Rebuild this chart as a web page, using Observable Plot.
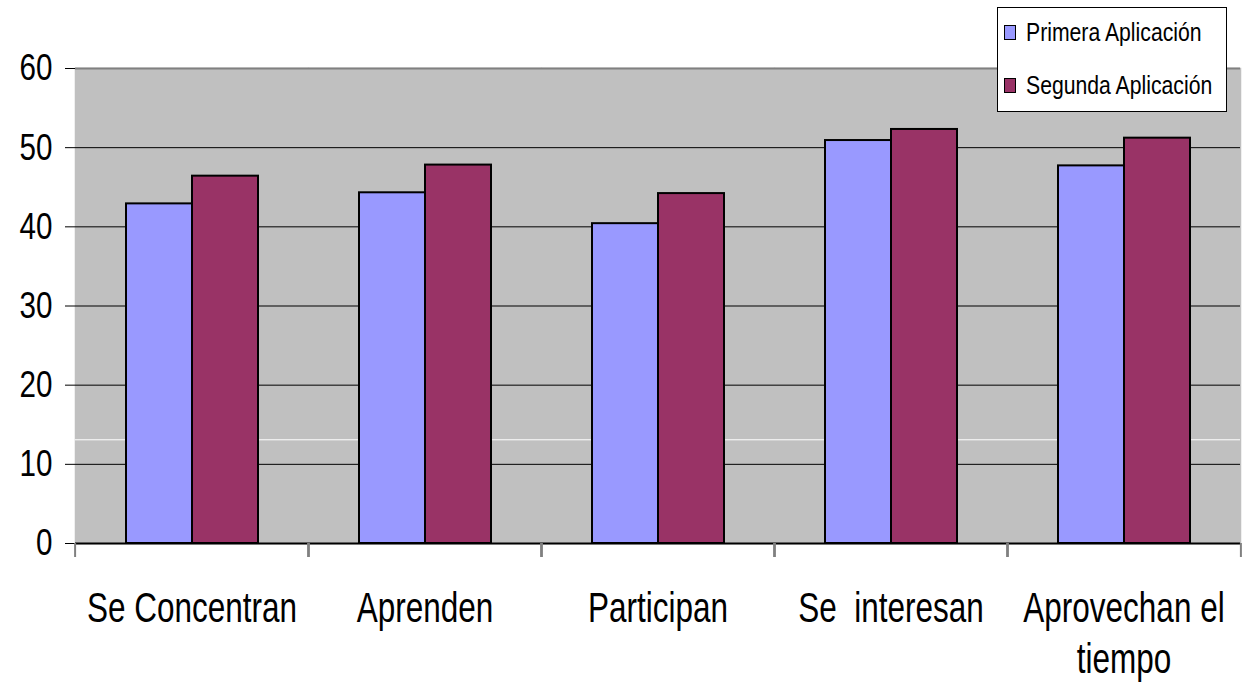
<!DOCTYPE html>
<html>
<head>
<meta charset="utf-8">
<script src="https://cdn.jsdelivr.net/npm/d3@7"></script>
<script src="https://cdn.jsdelivr.net/npm/@observablehq/plot@0.6"></script>
<style>
  html, body { margin: 0; padding: 0; background: #fff; }
  #wrap { position: relative; width: 1244px; height: 688px; font-family: "Liberation Sans", Arial, sans-serif; }
  #legend { position: absolute; left: 997px; top: 7px; width: 230px; height: 105px; background: #fff; border: 1px solid #000; box-sizing: border-box; }
  .item { position: absolute; left: 6px; display: flex; align-items: center; font-size: 26.5px; color: #000; white-space: nowrap; }
  .sw { width: 10px; height: 13px; border: 1px solid #000; margin-right: 10px; flex: none; }
  .lbl { display: inline-block; transform: scaleX(0.8); transform-origin: 0 50%; }
</style>
</head>
<body>
<div id="wrap"><div id="chart"></div><div id="legend"></div></div>
<script>
const categories = ["Se Concentran", "Aprenden", "Participan", "Se  interesan", "Aprovechan el tiempo"];
const categoryLabels = ["Se Concentran", "Aprenden", "Participan", "Se  interesan", "Aprovechan el\ntiempo"];
const series = ["Primera Aplicación", "Segunda Aplicación"];
const primera = [42.9, 44.3, 40.4, 50.9, 47.7];
const segunda = [46.4, 47.8, 44.2, 52.3, 51.2];
const colors = ["#9999FF", "#993366"];
const yTicks = [0, 10, 20, 30, 40, 50, 60];
const gridTicks = [10, 20, 30, 40, 50];
const whiteStreak = 13.1;

const rows = [];
categories.forEach((c, i) => {
  rows.push({category: c, serie: series[0], value: primera[i]});
  rows.push({category: c, serie: series[1], value: segunda[i]});
});

const W = 1244, H = 688, mL = 73, mR = 2, mT = 68, mB = 145;
const half = (W - mL - mR) / categories.length / 2;
const font = '"Liberation Sans", Arial, sans-serif';

const chart = Plot.plot({
  width: W, height: H,
  marginLeft: mL, marginRight: mR, marginTop: mT, marginBottom: mB,
  style: {fontFamily: font, background: "transparent", color: "#000"},
  fx: {domain: categories, padding: 0, label: null},
  x: {domain: series, paddingInner: 0, paddingOuter: 0.745, axis: null},
  y: {domain: [0, 60], label: null},
  color: {domain: series, range: colors},
  marks: [
    Plot.frame({fill: "#C0C0C0", stroke: "#C0C0C0", strokeWidth: 1.5}),
    Plot.ruleY([whiteStreak], {stroke: "#ffffff", strokeWidth: 1}),
    Plot.ruleY(gridTicks, {stroke: "#000", strokeWidth: 1}),
    Plot.ruleY([60], {stroke: "#808080", strokeWidth: 2}),
    Plot.barY(rows, {fx: "category", x: "serie", y: "value", fill: "serie", stroke: "#000", strokeWidth: 2}),
    Plot.ruleY([0], {stroke: "#000", strokeWidth: 2}),
    Plot.axisY({ticks: yTicks, tickSize: 10, tickPadding: 13, fontSize: 37, stroke: "#000", tickFormat: d => String(d)}),
    Plot.axisY({anchor: "left", ticks: [], tickSize: 0, line: true, stroke: "#333", strokeWidth: 2}),
    Plot.axisY({anchor: "right", ticks: [], tickSize: 0, line: true, stroke: "#909090", strokeWidth: 2}),
    Plot.axisFx({anchor: "bottom", tickSize: 14, text: null, stroke: "#808080", strokeWidth: 2, dx: -half}),
    Plot.axisFx({anchor: "bottom", tickSize: 14, text: null, stroke: "#808080", strokeWidth: 2, dx: half}),
    Plot.axisFx({anchor: "bottom", tickSize: 0, tickPadding: 43, fontSize: 42, lineHeight: 1.2,
      tickFormat: d => categoryLabels[categories.indexOf(d)], label: null})
  ]
});
document.getElementById("chart").appendChild(chart);

// condense glyphs horizontally (narrow face look) around each text's anchor
function condense(selector, s) {
  chart.querySelectorAll(selector).forEach(t => {
    const tr = t.getAttribute("transform") || "";
    t.setAttribute("transform", tr + ` scale(${s},1)`);
    t.style.whiteSpace = "pre";
  });
}
condense('g[aria-label="y-axis tick label"] text', 0.8);
condense('g[aria-label="fx-axis tick label"] text', 0.75);

const legend = document.getElementById("legend");
series.forEach((s, i) => {
  const item = document.createElement("div");
  item.className = "item";
  item.style.top = (i === 0 ? 9 : 62) + "px";
  const sw = document.createElement("div");
  sw.className = "sw";
  sw.style.background = colors[i];
  const t = document.createElement("span");
  t.className = "lbl";
  t.textContent = s;
  item.appendChild(sw);
  item.appendChild(t);
  legend.appendChild(item);
});
</script>
</body>
</html>
